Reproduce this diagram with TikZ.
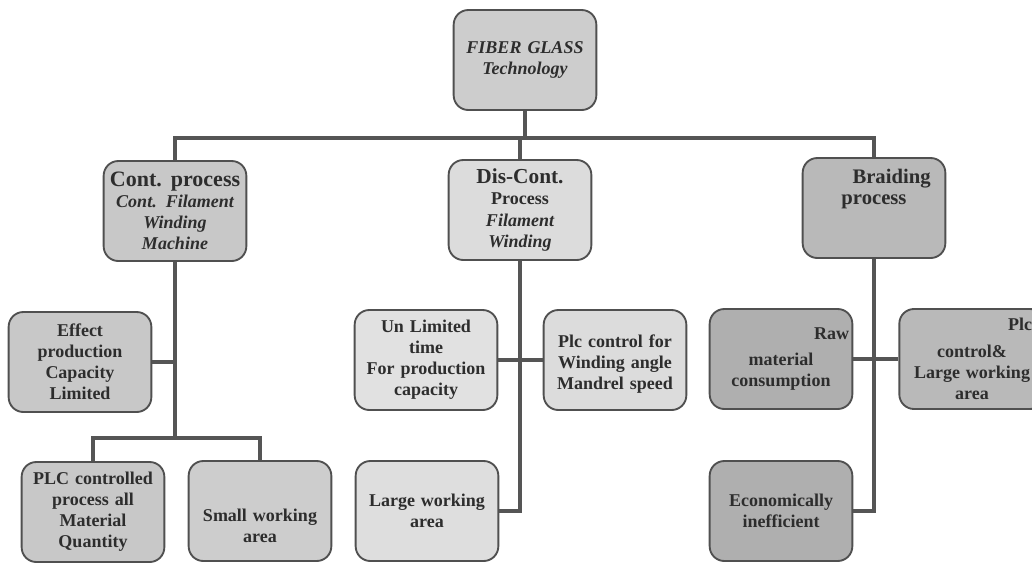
\documentclass[tikz,border=0pt]{standalone}
\usepackage{fontspec}
\setmainfont{Liberation Serif}
\definecolor{boxline}{RGB}{80,80,80}
\definecolor{linec}{RGB}{85,85,85}
\definecolor{txt}{RGB}{45,45,45}
\begin{document}
\begin{tikzpicture}[x=0.75pt,y=0.75pt,yscale=-1,
  box/.style={draw=boxline, line width=1.4pt, rounded corners=11pt, minimum width=107pt, minimum height=75pt, text width=102pt, align=center, inner sep=1.5pt, font=\fontsize{13.5}{15.8}\selectfont\bfseries, text=txt},
  link/.style={draw=linec, line width=3pt}]

\useasboundingbox (0,0) rectangle (1032,562);

\node[box, fill={rgb,255:red,205;green,205;blue,205}] (root) at (525,60) {\itshape FIBER GLASS\\Technology};

\node[box, fill={rgb,255:red,200;green,200;blue,200}] (cont) at (175,211) {{\fontsize{16.5}{17}\selectfont Cont. process}\\\itshape Cont. Filament\\Winding\\Machine};
\node[box, fill={rgb,255:red,220;green,220;blue,220}] (dis) at (520,210) {{\fontsize{16}{17}\selectfont Dis-Cont.}\\Process\\\itshape Filament\\Winding};
\node[box, fill={rgb,255:red,185;green,185;blue,185}] (braid) at (874,208) {{\fontsize{15.5}{17.5}\selectfont\hspace*{1.7em}Braiding\\process}\\\mbox{}\\\mbox{}};

\node[box, fill={rgb,255:red,200;green,200;blue,200}] (effect) at (80,362) {Effect\\production\\Capacity\\Limited};
\node[box, fill={rgb,255:red,200;green,200;blue,200}] (plc) at (93,512) {PLC controlled\\process all\\Material\\Quantity};
\node[box, fill={rgb,255:red,205;green,205;blue,205}] (small) at (260,511) {\mbox{}\\\mbox{}\\Small working\\area};

\node[box, fill={rgb,255:red,225;green,225;blue,225}] (unlim) at (426,360) {Un Limited\\time\\For production\\capacity};
\node[box, fill={rgb,255:red,220;green,220;blue,220}] (plecon) at (615,360) {\mbox{}\\Plc control for\\Winding angle\\Mandrel speed};
\node[box, fill={rgb,255:red,222;green,222;blue,222}] (large) at (427,511) {Large working\\area};

\node[box, fill={rgb,255:red,175;green,175;blue,175}] (raw) at (781,359) {\hfill Raw\hspace*{4pt}\\[4pt]material\\consumption};
\node[box, fill={rgb,255:red,185;green,185;blue,185}, minimum width=109pt, text width=90pt] (plctrl) at (972,359) {\hfill Plc\hspace*{5pt}\\[4pt]control\&\\Large working\\area};
\node[box, fill={rgb,255:red,175;green,175;blue,175}] (econ) at (781,511) {Economically\\inefficient};

\coordinate (bus) at (525,138);
\coordinate (cbus) at (175,438);

\draw[link] (root.south) -- (bus);
\draw[link] (cont.north) |- (bus) -| (braid.north);
\draw[link] (dis.north) -- (dis.north |- bus);

\draw[link] (cont.south) -- (cbus);
\draw[link] (effect.east) -- (effect.east -| cbus);
\draw[link] (plc.north) |- (cbus) -| (small.north);

\draw[link] (dis.south) |- (large.east);
\draw[link] (unlim.east) -- (plecon.west);

\draw[link] (braid.south) |- (econ.east);
\draw[link] (raw.east) -- (plctrl.west);
\end{tikzpicture}
\end{document}
